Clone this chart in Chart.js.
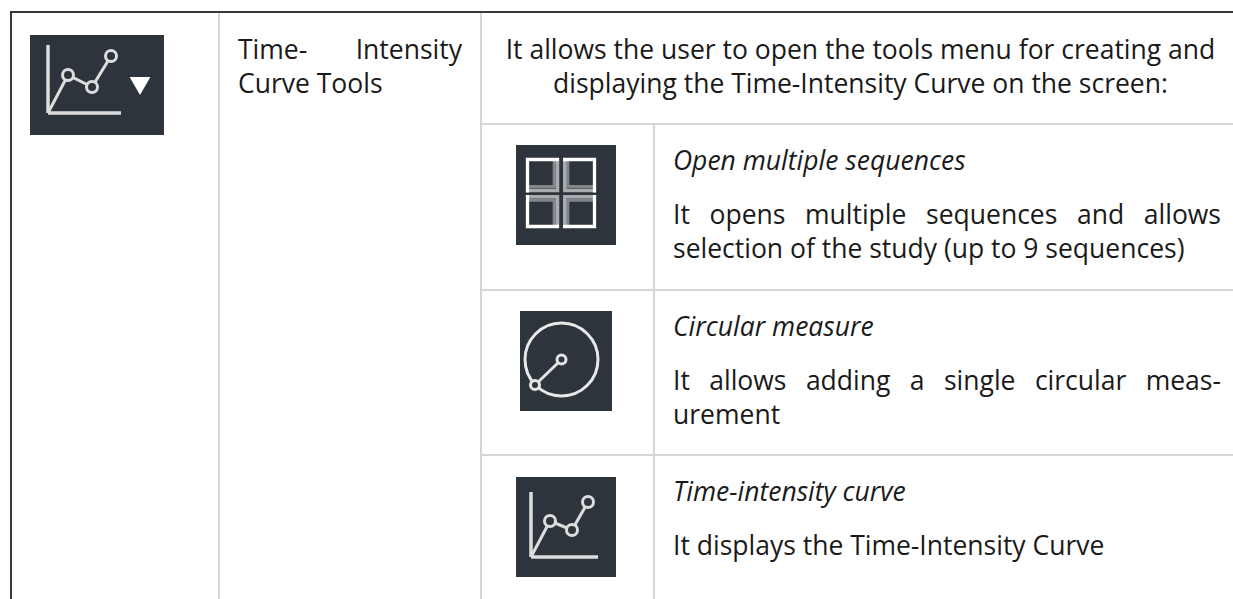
<!DOCTYPE html>
<html>
<head>
<meta charset="utf-8">
<script src="https://cdn.jsdelivr.net/npm/chart.js@4/dist/chart.umd.min.js"></script>
<style>
    html, body { margin: 0; padding: 0; background: #fff; width: 1233px; height: 599px; overflow: hidden; }
    body { font-family: "Open Sans", sans-serif; font-size: 26.5px; color: #1a1a1a; position: relative; }
    .rule { position: absolute; background: #d6d6d6; }
    .rule.outer { background: #383838; }
    .icon { position: absolute; background: #2e343b; }
    .icon canvas { display: block; }
    .soft canvas { filter: blur(0.7px); }
    .line { position: absolute; line-height: 34px; white-space: nowrap; }
    .just { text-align: justify; text-align-last: justify; white-space: normal; }
    .mid { text-align: center; }
    .em { font-style: italic; }
</style>
</head>
<body>
<div class="rule outer" style="left:10px;top:11px;width:1223px;height:2px"></div>
<div class="rule outer" style="left:10px;top:11px;width:2px;height:588px"></div>
<div class="rule" style="left:218px;top:13px;width:2px;height:586px"></div>
<div class="rule" style="left:480px;top:13px;width:2px;height:586px"></div>
<div class="rule" style="left:482px;top:123px;width:751px;height:2px"></div>
<div class="rule" style="left:653px;top:125px;width:2px;height:474px"></div>
<div class="rule" style="left:482px;top:289px;width:751px;height:2px"></div>
<div class="rule" style="left:482px;top:454px;width:751px;height:2px"></div>

<div class="icon soft" style="left:30px;top:35px;width:134px;height:100px"><canvas id="menuIcon" width="134" height="100"></canvas></div>
<div class="icon" style="left:516px;top:145px;width:100px;height:100px"><canvas id="gridIcon" width="100" height="100"></canvas></div>
<div class="icon" style="left:520px;top:311px;width:92px;height:100px"><canvas id="circleIcon" width="92" height="100"></canvas></div>
<div class="icon soft" style="left:516px;top:477px;width:100px;height:100px"><canvas id="curveIcon" width="100" height="100"></canvas></div>

<div class="line just" style="left:238px;top:32px;width:224px">Time- Intensity</div>
<div class="line" style="left:238px;top:66px">Curve Tools</div>
<div class="line mid" style="left:482px;top:32px;width:757px">It allows the user to open the tools menu for creating and</div>
<div class="line mid" style="left:482px;top:66px;width:757px">displaying the Time-Intensity Curve on the screen:</div>
<div class="line em" style="left:673px;top:143px">Open multiple sequences</div>
<div class="line just" style="left:673px;top:197px;width:548px">It opens multiple sequences and allows</div>
<div class="line" style="left:673px;top:231px">selection of the study (up to 9 sequences)</div>
<div class="line em" style="left:673px;top:309px">Circular measure</div>
<div class="line just" style="left:673px;top:363px;width:548px">It allows adding a single circular meas-</div>
<div class="line" style="left:673px;top:397px">urement</div>
<div class="line em" style="left:673px;top:474px">Time-intensity curve</div>
<div class="line" style="left:673px;top:528px">It displays the Time-Intensity Curve</div>

<script>
const menuAxisX = [0, 73];
const menuAxisY = [0, 68];
const menuCurveX = [0, 20, 44, 63];
const menuCurveY = [0, 38, 26, 57];
const menuArrowX = [92];
const menuArrowY = [30];

const curveAxisX = [0, 67];
const curveAxisY = [0, 65];
const curveX = [0, 19, 41, 57];
const curveY = [0, 36, 27, 55];

const circleCentreX = [0];
const circleCentreY = [0];
const radiusX = [0, -26.5];
const radiusY = [0, -25.5];

// the four panes of the layout icon, one polyline per pane
const gridWhiteX = [[11.5, 11.5, 43], [78.5, 78.5, 47], [11.5, 11.5, 43], [78.5, 78.5, 47]];
const gridWhiteY = [[52.5, 85.5, 85.5], [52.5, 85.5, 85.5], [50, 18.5, 18.5], [50, 18.5, 18.5]];
const gridLightX = [[10, 41.6, 41.6], [80, 48.7, 48.7], [10, 41.6, 41.6], [80, 48.7, 48.7]];
const gridLightY = [[54.5, 54.5, 87], [54.5, 54.5, 87], [48.3, 48.3, 17], [48.3, 48.3, 17]];
const gridDarkX = [[13, 38.3, 38.3], [77, 51.7, 51.7], [13, 38.3, 38.3], [77, 51.7, 51.7]];
const gridDarkY = [[58.3, 58.3, 84], [58.3, 58.3, 84], [45, 45, 20], [45, 45, 20]];

const iconWhite = "#dcdddd";
const iconBack = "#2e343b";

const bare = {
    responsive: false,
    animation: false,
    events: [],
    layout: { padding: 0, autoPadding: false },
    plugins: { legend: { display: false }, tooltip: { enabled: false } },
};

function toPoints(xs, ys) {
    return xs.map((x, i) => ({ x: x, y: ys[i] }));
}

function linearScales(xMin, xMax, yMin, yMax) {
    return {
        x: { type: "linear", display: false, min: xMin, max: xMax },
        y: { type: "linear", display: false, min: yMin, max: yMax },
    };
}

function axisSets(axisX, axisY) {
    return [
        { data: toPoints(axisX, [0, 0]), showLine: true, pointRadius: 0, borderColor: iconWhite, borderWidth: 3.5 },
        { data: toPoints([0, 0], axisY), showLine: true, pointRadius: 0, borderColor: iconWhite, borderWidth: 3.5 },
    ];
}

function curveSet(xs, ys) {
    return {
        data: toPoints(xs, ys),
        showLine: true,
        borderColor: iconWhite,
        borderWidth: 3,
        pointRadius: (c) => (c.dataIndex === 0 ? 0 : 5.5),
        pointBorderWidth: 3,
        pointBorderColor: iconWhite,
        pointBackgroundColor: iconBack,
    };
}

new Chart(document.getElementById("menuIcon"), {
    type: "scatter",
    data: {
        datasets: [
            {
                data: toPoints(menuArrowX, menuArrowY),
                pointStyle: "triangle",
                rotation: 180,
                pointRadius: 12,
                pointBackgroundColor: "#ffffff",
                pointBorderWidth: 0,
            },
            curveSet(menuCurveX, menuCurveY),
            ...axisSets(menuAxisX, menuAxisY),
        ],
    },
    options: Object.assign({}, bare, { scales: linearScales(-18, 116, -22, 78) }),
});

new Chart(document.getElementById("curveIcon"), {
    type: "scatter",
    data: {
        datasets: [curveSet(curveX, curveY), ...axisSets(curveAxisX, curveAxisY)],
    },
    options: Object.assign({}, bare, { scales: linearScales(-15, 85, -20, 80) }),
});

new Chart(document.getElementById("circleIcon"), {
    type: "scatter",
    data: {
        datasets: [
            {
                data: toPoints(radiusX, radiusY),
                showLine: true,
                borderColor: "#e4e4e4",
                borderWidth: 3,
                pointRadius: 4.5,
                pointBorderWidth: 3,
                pointBorderColor: "#e4e4e4",
                pointBackgroundColor: iconBack,
            },
            {
                data: toPoints(circleCentreX, circleCentreY),
                pointRadius: 36.5,
                pointBorderWidth: 3,
                pointBorderColor: "#e8e8e8",
                pointBackgroundColor: "transparent",
            },
        ],
    },
    options: Object.assign({}, bare, { scales: linearScales(-41.5, 50.5, -51.5, 48.5) }),
});

function gridLayer(xs, ys, color) {
    return xs.map((x, i) => ({
        data: toPoints(x, ys[i]),
        showLine: true,
        pointRadius: 0,
        borderColor: color,
        borderWidth: 3.3,
        borderJoinStyle: "miter",
    }));
}

new Chart(document.getElementById("gridIcon"), {
    type: "scatter",
    data: {
        datasets: [
            ...gridLayer(gridWhiteX, gridWhiteY, "#ffffff"),
            ...gridLayer(gridLightX, gridLightY, "#a9adaf"),
            ...gridLayer(gridDarkX, gridDarkY, "#82878a"),
        ],
    },
    options: Object.assign({}, bare, { scales: linearScales(0, 100, 0, 100) }),
});
</script>
</body>
</html>
